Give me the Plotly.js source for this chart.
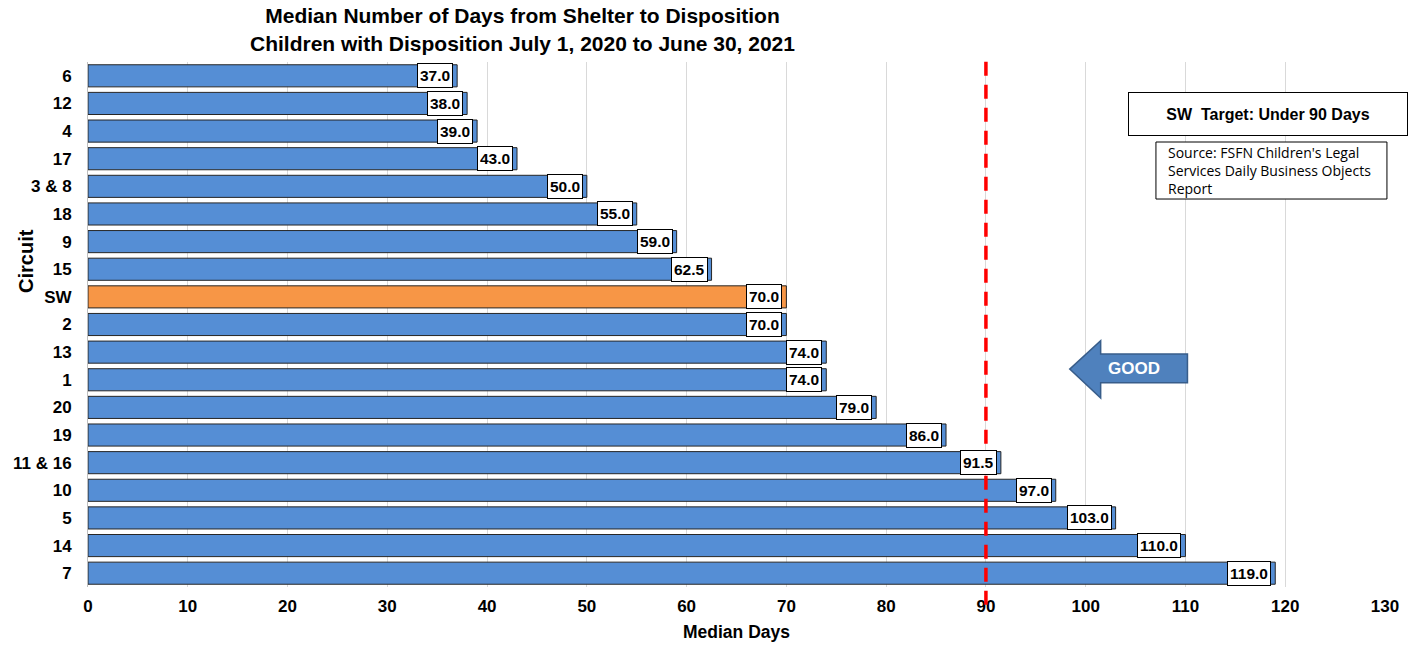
<!DOCTYPE html>
<html>
<head>
<meta charset="utf-8">
<script src="https://cdn.plot.ly/plotly-3.0.1.min.js"></script>
<style>html,body{margin:0;padding:0;background:#fff;}#chart{width:1423px;height:646px;}</style>
</head>
<body>
<div id="chart"></div>
<script>
const circuits = ["6","12","4","17","3 & 8","18","9","15","SW","2","13","1","20","19","11 & 16","10","5","14","7"];
const medianDays = [37.0,38.0,39.0,43.0,50.0,55.0,59.0,62.5,70.0,70.0,74.0,74.0,79.0,86.0,91.5,97.0,103.0,110.0,119.0];
const xTicks = [0,10,20,30,40,50,60,70,80,90,100,110,120,130];
const targetDays = 90;
const highlight = "SW";

const FONT = "Liberation Sans, Arial, sans-serif";
const colors = circuits.map(c => c === highlight ? "#F79646" : "#558ED5");

const trace = {
  type: "bar",
  orientation: "h",
  y: circuits,
  x: medianDays,
  marker: {color: colors, line: {color: "#262626", width: 1}},
  hoverinfo: "x+y"
};

// category axis: position by category index
const labelAnns = circuits.map((c, i) => ({
  x: medianDays[i], y: i, xref: "x", yref: "y",
  text: medianDays[i].toFixed(1),
  showarrow: false, xanchor: "right", yanchor: "middle", xshift: -4,
  bgcolor: "#ffffff", bordercolor: "#000000", borderwidth: 1, borderpad: 2,
  height: 19,
  font: {family: FONT, size: 15.5, color: "#000", weight: "bold"}
}));

const layout = {
  width: 1423, height: 646,
  margin: {l: 88, r: 38, t: 62, b: 59},
  paper_bgcolor: "#fff", plot_bgcolor: "#fff",
  showlegend: false,
  bargap: 0.2,
  title: {
    text: "Median Number of Days from Shelter to Disposition<br>Children with Disposition July 1, 2020 to June 30, 2021",
    font: {family: FONT, size: 21, color: "#000", weight: "bold"},
    x: 0.335, xref: "paper", xanchor: "center", yref: "container", y: 0.964, yanchor: "bottom"
  },
  xaxis: {
    range: [0, 130], tickvals: xTicks, ticktext: xTicks.map(String),
    showgrid: true, gridcolor: "#d9d9d9", gridwidth: 1,
    zeroline: false, showline: false, ticks: "",
    ticklabelstandoff: 7,
    tickfont: {family: FONT, size: 17, color: "#000", weight: "bold"},
    title: {text: "Median Days", font: {family: FONT, size: 17.5, color: "#000", weight: "bold"}, standoff: 10}
  },
  yaxis: {
    type: "category", autorange: "reversed",
    showgrid: false, zeroline: false, showline: true, linecolor: "#bfbfbf", ticks: "",
    ticklabelstandoff: 12,
    tickfont: {family: FONT, size: 17, color: "#000", weight: "bold"}
  },
  shapes: [
    {type: "line", xref: "x", yref: "paper", x0: targetDays, x1: targetDays, y0: -0.034, y1: 1.017,
     line: {color: "#FF0000", width: 3.5, dash: "14px,9px"}},
    {type: "path", xref: "x", yref: "paper",
     path: "M 98.4 0.415 L 101.5 0.469 L 101.5 0.444 L 110.2 0.444 L 110.2 0.389 L 101.5 0.389 L 101.5 0.36 Z",
     fillcolor: "#4F81BD", line: {color: "#385D8A", width: 1.5}},
    {type: "rect", xref: "paper", yref: "paper", x0: 0.8234, x1: 1.0015, y0: 0.739, y1: 0.8476,
     fillcolor: "#fff", line: {color: "#000", width: 1}}
  ],
  annotations: labelAnns.concat([
    {x: -0.0478, y: 0.621, xref: "paper", yref: "paper", text: "Circuit", showarrow: false,
     textangle: -90, xanchor: "center", yanchor: "middle",
     font: {family: FONT, size: 20, color: "#000", weight: "bold"}},
    {x: 104.8, y: 0.416, xref: "x", yref: "paper", text: "GOOD", showarrow: false,
     font: {family: FONT, size: 17, color: "#fff", weight: "bold"}},
    {x: 0.91, y: 0.901, xref: "paper", yref: "paper", text: "SW  Target: Under 90 Days", showarrow: false,
     xanchor: "center", yanchor: "middle", width: 276, height: 40,
     bgcolor: "#fff", bordercolor: "#000", borderwidth: 1,
     font: {family: FONT, size: 16, color: "#000", weight: "bold"}},
    {x: 0.8312, y: 0.794, xref: "paper", yref: "paper",
     text: "Source: FSFN Children's Legal<br>Services Daily Business Objects<br>Report", showarrow: false,
     xanchor: "left", yanchor: "middle", align: "left",
     font: {family: "Open Sans, Liberation Sans, sans-serif", size: 14, color: "#000"}}
  ])
};

Plotly.newPlot("chart", [trace], layout, {displayModeBar: false, responsive: false});
</script>
</body>
</html>
